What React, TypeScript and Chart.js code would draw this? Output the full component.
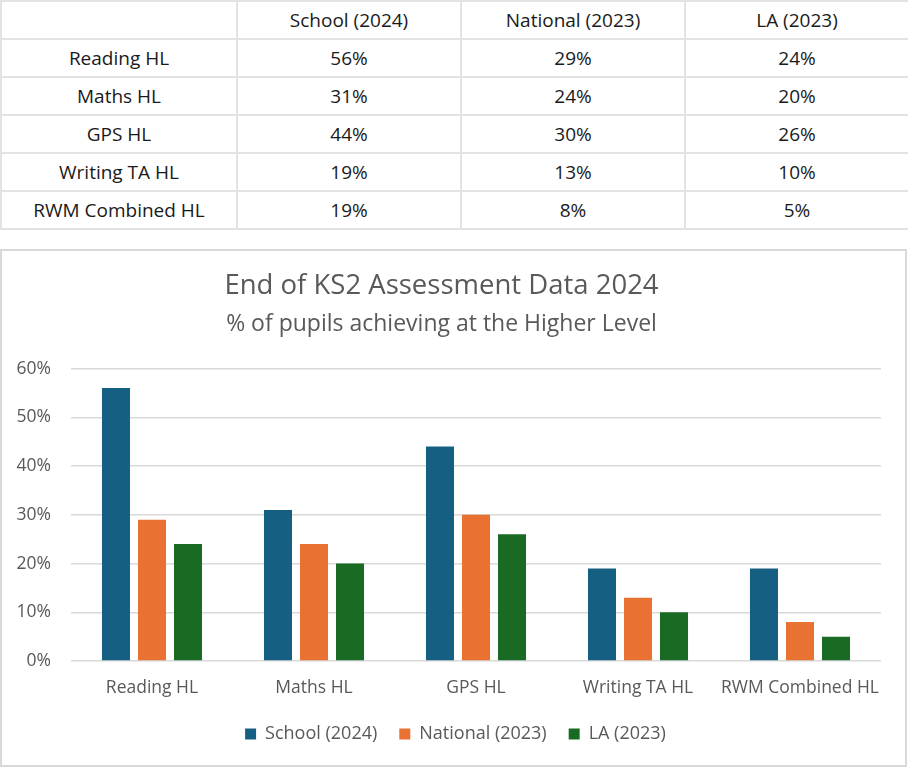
import React, { useEffect, useRef } from "react";
import { Chart, registerables } from "chart.js";

Chart.register(...registerables);

const categories = ["Reading HL", "Maths HL", "GPS HL", "Writing TA HL", "RWM Combined HL"];
const seriesNames = ["School (2024)", "National (2023)", "LA (2023)"];
const schoolValues = [56, 31, 44, 19, 19];
const nationalValues = [29, 24, 30, 13, 8];
const laValues = [24, 20, 26, 10, 5];
const seriesColors = ["#156082", "#E97132", "#196B24"];
const yTicks = [0, 10, 20, 30, 40, 50, 60];
const chartTitle = "End of KS2 Assessment Data 2024";
const chartSubtitle = "% of pupils achieving at the Higher Level";

const FONT = "'Open Sans', sans-serif";

const legendShift = {
  id: "legendShift",
  afterLayout(chart: any) {
    if (chart.legend) {
      chart.legend.left += 14;
      chart.legend.right += 14;
    }
  },
};

export default function App() {
  const canvasRef = useRef<HTMLCanvasElement | null>(null);

  useEffect(() => {
    if (!canvasRef.current) return;
    const all = [schoolValues, nationalValues, laValues];
    const chart = new Chart(canvasRef.current, {
      type: "bar",
      data: {
        labels: categories,
        datasets: seriesNames.map((name, i) => ({
          label: name,
          data: all[i],
          backgroundColor: seriesColors[i],
          borderWidth: 0,
          categoryPercentage: 0.667,
          barPercentage: 0.778,
        })),
      },
      plugins: [legendShift],
      options: {
        animation: false,
        responsive: true,
        maintainAspectRatio: false,
        layout: { padding: { left: 0, right: 24, top: 10, bottom: 12 } },
        plugins: {
          title: {
            display: true,
            text: chartTitle,
            color: "#595959",
            font: { family: FONT, size: 27.5, weight: "normal" },
            padding: { top: 9, bottom: 4 },
          },
          subtitle: {
            display: true,
            text: chartSubtitle,
            color: "#595959",
            font: { family: FONT, size: 23, weight: "normal" },
            padding: { top: 4, bottom: 30 },
          },
          legend: {
            position: "bottom",
            labels: {
              boxWidth: 11,
              boxHeight: 11,
              color: "#595959",
              font: { family: FONT, size: 18 },
              padding: 22,
            },
          },
          tooltip: { enabled: false },
        },
        scales: {
          x: {
            grid: { display: false, drawTicks: false },
            border: { display: false },
            ticks: {
              color: "#595959",
              font: { family: FONT, size: 17.5 },
              padding: 17,
              maxRotation: 0,
              minRotation: 0,
              autoSkip: false,
            },
            afterFit: (scale: any) => {
              scale.height = 42;
            },
          },
          y: {
            min: 0,
            max: 60,
            afterBuildTicks: (axis: any) => {
              axis.ticks = yTicks.map((v) => ({ value: v }));
            },
            afterFit: (scale: any) => {
              scale.width = 69;
            },
            grid: { color: "#d9d9d9", lineWidth: 1.5, drawTicks: false },
            border: { display: false },
            ticks: {
              color: "#595959",
              font: { family: FONT, size: 17.5 },
              padding: 20,
              callback: (v: any) => v + "%",
            },
          },
        },
      },
    });
    return () => chart.destroy();
  }, []);

  const tableRows = categories.map((c, i) => [c, schoolValues[i], nationalValues[i], laValues[i]]);
  const cellStyle: React.CSSProperties = {
    border: "2px solid #e3e3e3",
    height: 36,
    padding: 0,
    textAlign: "center",
    fontFamily: FONT,
    fontSize: 19,
    color: "#1a1a1a",
  };

  return (
    <div style={{ position: "absolute", left: 0, top: 0, width: 908, height: 768, background: "#fff" }}>
      <table
        style={{
          position: "absolute",
          left: 0,
          top: 0,
          width: 908,
          borderCollapse: "collapse",
          tableLayout: "fixed",
        }}
      >
        <colgroup>
          <col style={{ width: 236 }} />
          <col style={{ width: 224 }} />
          <col style={{ width: 224 }} />
          <col style={{ width: 224 }} />
        </colgroup>
        <thead>
          <tr>
            <td style={cellStyle}></td>
            {seriesNames.map((n) => (
              <td key={n} style={cellStyle}>{n}</td>
            ))}
          </tr>
        </thead>
        <tbody>
          {tableRows.map((r) => (
            <tr key={String(r[0])}>
              <td style={cellStyle}>{r[0]}</td>
              <td style={cellStyle}>{r[1]}%</td>
              <td style={cellStyle}>{r[2]}%</td>
              <td style={cellStyle}>{r[3]}%</td>
            </tr>
          ))}
        </tbody>
      </table>
      <div
        style={{
          position: "absolute",
          left: 0,
          top: 249,
          width: 907,
          height: 518,
          border: "2px solid #d9d9d9",
          boxSizing: "border-box",
        }}
      >
        <div style={{ position: "relative", width: "100%", height: "100%" }}>
          <canvas ref={canvasRef} />
        </div>
      </div>
    </div>
  );
}
